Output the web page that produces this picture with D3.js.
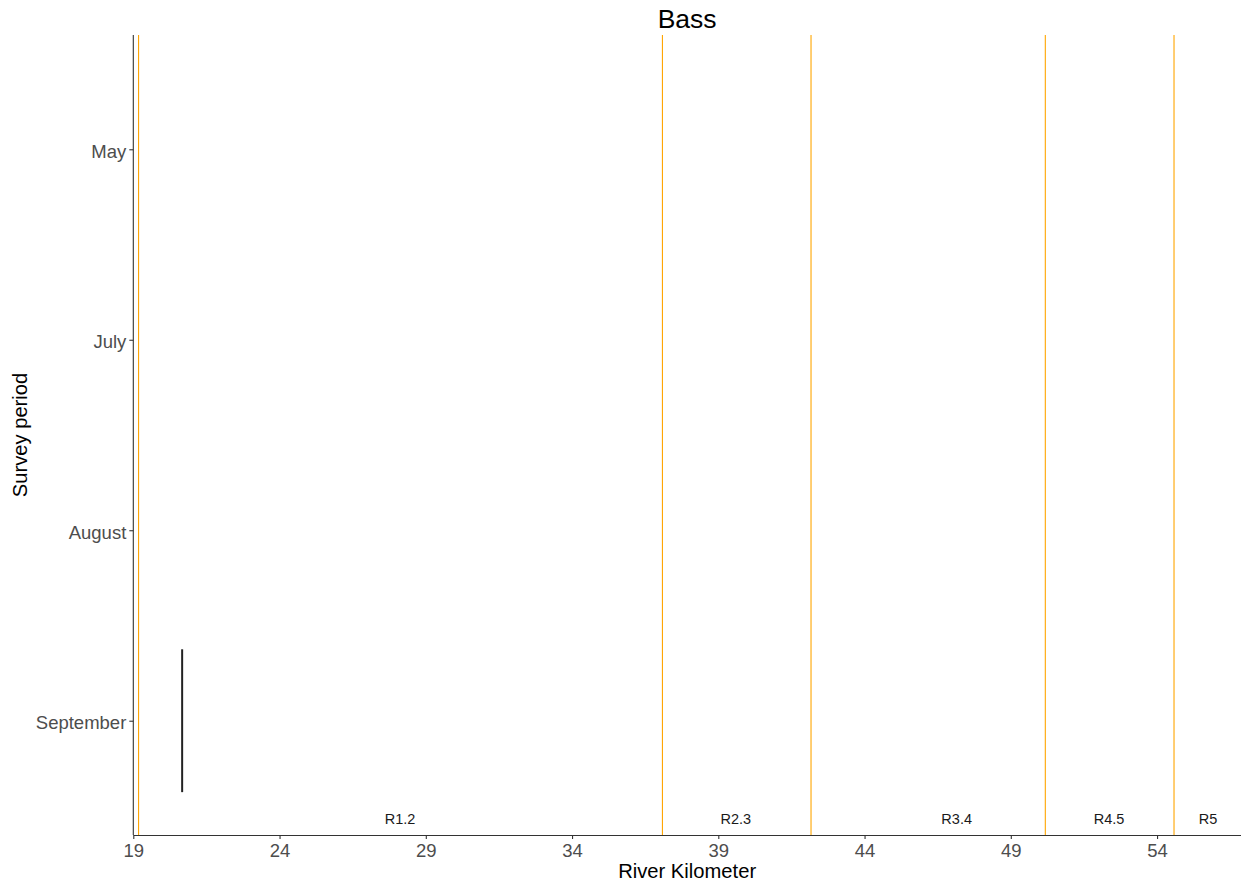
<!DOCTYPE html>
<html><head><meta charset="utf-8">
<script src="https://cdn.jsdelivr.net/npm/d3@7"></script>
<style>body{margin:0;background:#fff}svg{display:block;font-family:"Liberation Sans",Arial,sans-serif}</style>
</head><body><svg id="c" width="1241" height="886"></svg>
<script>
const periods = ["September","August","July","May"];
const xTicks = [19,24,29,34,39,44,49,54];
const xDomain = [19, 56.87];
const reachBreaks = [19.18, 37.09, 42.17, 50.18, 54.58];
const reachLabels = ["R1.2","R2.3","R3.4","R4.5","R5"];
const reachLabelX = [28.12, 39.6, 47.15, 52.36, 55.74];
const segments = [{period:"September", km:20.67, halfWidth:0.375}];

const svg = d3.select("#c");
const m = {l:133.3, r:1241, t:35, b:835};
const x = d3.scaleLinear().domain(xDomain).range([m.l, m.r]);
const yv = d3.scaleLinear().domain([0.4, 4.6]).range([m.b, m.t]);
const yc = p => yv(periods.indexOf(p) + 1);
const FF = "Liberation Sans, Arial, sans-serif";

// reach break lines
svg.append("g").selectAll("line").data(reachBreaks).join("line")
  .attr("x1", d=>x(d)).attr("x2", d=>x(d)).attr("y1", m.t).attr("y2", m.b)
  .attr("stroke", "#FFA500").attr("stroke-width", 1.1);

// reach labels
svg.append("g").selectAll("text").data(reachLabels).join("text")
  .attr("x", (d,i)=>x(reachLabelX[i])).attr("y", 824)
  .attr("text-anchor","middle").attr("font-size", 14.5).attr("fill","#1a1a1a").text(d=>d);

// segments
svg.append("g").selectAll("line").data(segments).join("line")
  .attr("x1", d=>x(d.km)).attr("x2", d=>x(d.km))
  .attr("y1", d=>yv(periods.indexOf(d.period)+1+d.halfWidth))
  .attr("y2", d=>yv(periods.indexOf(d.period)+1-d.halfWidth))
  .attr("stroke","#222").attr("stroke-width",2);

// x axis
const xa = svg.append("g").attr("transform",`translate(0,${m.b})`)
  .call(d3.axisBottom(x).tickValues(xTicks).tickSize(4).tickSizeOuter(0).tickPadding(5));
xa.attr("font-size",18.5).attr("font-family",FF);
xa.select(".domain").attr("stroke","#333").attr("stroke-width",1.1);
xa.selectAll(".tick line").attr("stroke","#333").attr("stroke-width",1.1);
xa.selectAll(".tick text").attr("fill","#4d4d4d");

// y axis
const ya = svg.append("g").attr("transform",`translate(${m.l},0)`)
  .call(d3.axisLeft(d3.scaleOrdinal().domain(periods).range(periods.map(p=>yc(p)))).tickValues(periods).tickSize(4).tickSizeOuter(0).tickPadding(3));
ya.attr("font-size",18.5).attr("font-family",FF);
ya.select(".domain").remove();
svg.append("line").attr("x1",m.l).attr("x2",m.l).attr("y1",m.t).attr("y2",m.b).attr("stroke","#333").attr("stroke-width",1.1);
ya.selectAll(".tick line").attr("stroke","#333").attr("stroke-width",1.1);
ya.selectAll(".tick text").attr("fill","#4d4d4d").attr("dy","0.42em");

// titles
svg.append("text").attr("x",(m.l+m.r)/2).attr("y",28).attr("text-anchor","middle").attr("font-size",26.5).attr("fill","#000").text("Bass");
svg.append("text").attr("x",(m.l+m.r)/2).attr("y",878).attr("text-anchor","middle").attr("font-size",20.2).attr("fill","#000").text("River Kilometer");
svg.append("text").attr("transform",`translate(27,${(m.t+m.b)/2}) rotate(-90)`).attr("text-anchor","middle").attr("font-size",20.2).attr("fill","#000").text("Survey period");
</script></body></html>
